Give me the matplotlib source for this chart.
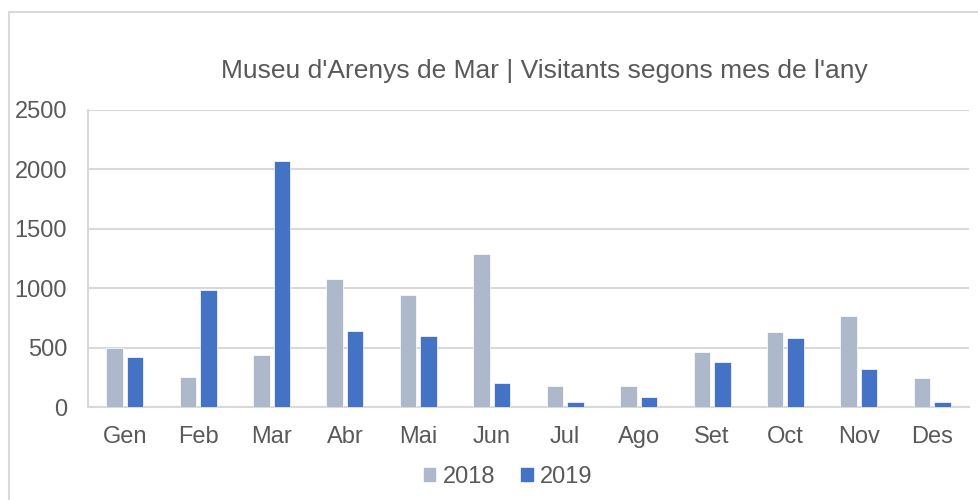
import matplotlib.pyplot as plt
import matplotlib.patches as mpatches
import numpy as np

plt.rcParams['font.family'] = ['Liberation Sans', 'DejaVu Sans']

months = ['Gen', 'Feb', 'Mar', 'Abr', 'Mai', 'Jun', 'Jul', 'Ago', 'Set', 'Oct', 'Nov', 'Des']
v2018 = [500, 250, 440, 1078, 940, 1290, 178, 178, 460, 633, 762, 246]
v2019 = [425, 987, 2070, 640, 595, 206, 42, 85, 380, 583, 321, 42]

c2018 = '#adb9ca'
c2019 = '#4472c4'
txt = '#595959'
grid = '#d9d9d9'

fig = plt.figure(figsize=(9.79, 5.0), dpi=100)
ax = fig.add_axes([88/979, 1-407/500, (969-88)/979, (407-110)/500])

# chart border
fig.patches.append(mpatches.Rectangle((9/979, -0.1), 1.1, 1-12/500+0.1,
                                      transform=fig.transFigure, fill=False,
                                      edgecolor=grid, linewidth=1.5))

x = np.arange(len(months))
w = 0.225
ax.bar(x - 0.14, v2018, w, color=c2018, edgecolor='white', linewidth=0.5, zorder=3)
ax.bar(x + 0.14, v2019, w, color=c2019, edgecolor='white', linewidth=0.5, zorder=3)

ax.set_xlim(-0.5, 11.5)
ax.set_ylim(0, 2500)
ax.set_yticks(range(0, 2501, 500))
ax.set_xticks(x)
ax.set_xticklabels(months)
ax.yaxis.grid(True, color=grid, linewidth=1.5, zorder=0)
ax.tick_params(length=0, labelsize=17, labelcolor=txt)
ax.tick_params(axis='y', pad=15)
ax.tick_params(axis='x', pad=14)
for s in ['top', 'right']:
    ax.spines[s].set_visible(False)
for s in ['left', 'bottom']:
    ax.spines[s].set_color(grid)
    ax.spines[s].set_linewidth(1.5)

fig.text(544/979, 1-71/500, "Museu d'Arenys de Mar | Visitants segons mes de l'any",
         ha='center', va='center', fontsize=19, color=txt)

handles = [mpatches.Patch(color=c2018, label='2018'), mpatches.Patch(color=c2019, label='2019')]
fig.legend(handles=handles, loc='center', bbox_to_anchor=(508/979, 1-477/500), ncol=2,
           frameon=False, fontsize=17, handlelength=0.5, handleheight=0.5,
           handletextpad=0.3, columnspacing=1.1, labelcolor=txt)

fig.savefig('out.png', dpi=100)
